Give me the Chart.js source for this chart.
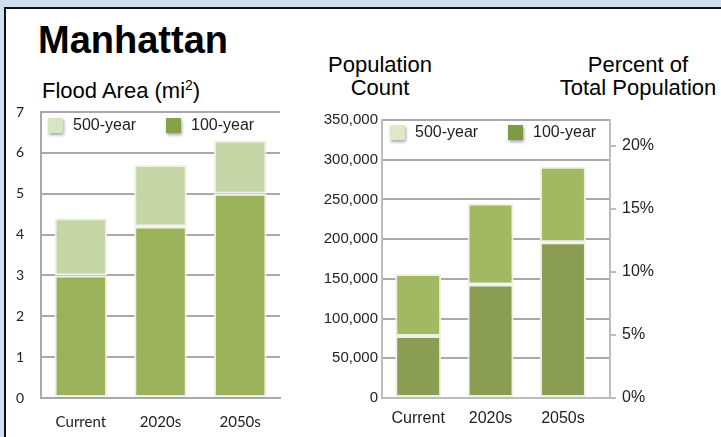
<!DOCTYPE html>
<html>
<head>
<meta charset="utf-8">
<script src="https://cdn.jsdelivr.net/npm/chart.js@4/dist/chart.umd.min.js"></script>
<style>
  body { margin: 0; width: 721px; height: 437px; overflow: hidden; position: relative; background: #cfdff0; font-family: "Liberation Sans", Arial, sans-serif; }
  #panel { position: absolute; left: 4px; top: 7px; width: 740px; height: 450px; background: #fff; border-left: 2px solid #111; border-top: 2px solid #111; }
  .txt { position: absolute; color: #000; white-space: nowrap; }
  canvas { position: absolute; top: 0; }
</style>
</head>
<body>
<div id="panel"></div>
<div class="txt" style="left:38px; top:21px; font-size:38px; line-height:38px; font-weight:bold;">Manhattan</div>
<div class="txt" style="left:42px; top:80px; font-size:22px; line-height:22px;">Flood Area (mi<sup style="font-size:14px; line-height:0; vertical-align:8px;">2</sup>)</div>
<div class="txt" style="left:280px; top:53px; width:200px; text-align:center; font-size:22px; line-height:23.3px;">Population<br>Count</div>
<div class="txt" style="left:538px; top:53px; width:200px; text-align:center; font-size:22px; line-height:23.3px;">Percent of<br>Total Population</div>
<canvas id="areaChart" width="290" height="437" style="left:0px;"></canvas>
<canvas id="popChart" width="431" height="437" style="left:290px;"></canvas>
<script>
// values
const categories = ['Current', '2020s', '2050s'];
const seriesNames = ['100-year', '500-year'];

// flood area, mi2 (500-year is the extra area on top of the 100-year one)
const area100 = [3.0, 4.2, 5.0];
const area500 = [1.4, 1.5, 1.3];
const areaTicks = [0, 1, 2, 3, 4, 5, 6, 7];

// people living in the flood zone
const pop100 = [78000, 143000, 196000];
const pop500 = [78000, 102000, 95000];
const popTicks = [0, 50000, 100000, 150000, 200000, 250000, 300000, 350000];

// right axis: share of the borough's population
const totalPopulation = 1585873;
const percentTicks = [0, 5, 10, 15, 20];

const gridGray = '#a9a9a9';
const axisGray = '#bdbdbd';

// draws the small legend inside the plot area
let insideLegend = {
    id: 'insideLegend',
    afterDraw(chart, args, opts) {
        let ctx = chart.ctx;
        let area = chart.chartArea;
        ctx.save();
        opts.items.forEach(item => {
            let x = area.left + item.dx;
            let y = area.top + opts.dy;
            ctx.shadowColor = 'rgba(0,0,0,0.35)';
            ctx.shadowBlur = 3;
            ctx.shadowOffsetX = 1;
            ctx.shadowOffsetY = 2;
            ctx.fillStyle = item.color;
            ctx.fillRect(x, y, 15, 15);
            ctx.shadowColor = 'transparent';
            ctx.fillStyle = '#222';
            ctx.font = '16px "Liberation Sans", Arial, sans-serif';
            ctx.textBaseline = 'middle';
            ctx.textAlign = 'left';
            ctx.fillText(item.text, x + 25, y + 8);
        });
        ctx.restore();
    }
};

let renderAreaChart = () => {

    let canvas = document.getElementById('areaChart');

    new Chart(canvas, {
        type: 'bar',
        data: {
            labels: categories,
            datasets: [
                {
                    label: seriesNames[0],
                    data: area100,
                    backgroundColor: '#9bb25b',
                    borderColor: '#eef1e6',
                    borderWidth: 2,
                    borderSkipped: false,
                    barPercentage: 0.66,
                    categoryPercentage: 1
                },
                {
                    label: seriesNames[1],
                    data: area500,
                    backgroundColor: '#c5d5a5',
                    borderColor: '#eef1e6',
                    borderWidth: 2,
                    borderSkipped: false,
                    barPercentage: 0.66,
                    categoryPercentage: 1
                }
            ]
        },
        options: {
            responsive: false,
            animation: false,
            devicePixelRatio: 1,
            layout: { padding: { top: 112, right: 10, bottom: 0, left: 0 } },
            scales: {
                x: {
                    stacked: true,
                    grid: { display: false },
                    border: { display: true, color: gridGray, width: 2 },
                    ticks: { color: '#222', padding: 7, font: { family: 'Lato', size: 15 } },
                    afterFit: (scale) => { scale.height = 39; }
                },
                y: {
                    stacked: true,
                    min: 0,
                    max: 7,
                    afterBuildTicks: (scale) => { scale.ticks = areaTicks.map(v => ({ value: v })); },
                    grid: { color: gridGray, lineWidth: 2, drawTicks: false },
                    border: { display: true, color: gridGray, width: 2 },
                    ticks: { color: '#222', padding: 17, font: { family: 'Lato', size: 14 } },
                    afterFit: (scale) => { scale.width = 41; }
                }
            },
            plugins: {
                legend: { display: false },
                tooltip: { enabled: false },
                insideLegend: {
                    dy: 6,
                    items: [
                        { text: '500-year', color: '#d9e4c4', dx: 7 },
                        { text: '100-year', color: '#86a14a', dx: 125 }
                    ]
                }
            }
        },
        plugins: [insideLegend]
    });
};

let renderPopChart = () => {

    let canvas = document.getElementById('popChart');
    let points100 = pop100.map((v, i) => ({ x: i, y: v }));
    let points500 = pop500.map((v, i) => ({ x: i, y: v }));
    let popMax = popTicks[popTicks.length - 1];

    new Chart(canvas, {
        type: 'bar',
        data: {
            datasets: [
                {
                    label: seriesNames[0],
                    data: points100,
                    backgroundColor: '#8a9d52',
                    borderColor: '#eef1e6',
                    borderWidth: 2,
                    borderSkipped: false,
                    barPercentage: 0.635,
                    categoryPercentage: 1
                },
                {
                    label: seriesNames[1],
                    data: points500,
                    backgroundColor: '#a3b862',
                    borderColor: '#eef1e6',
                    borderWidth: 2,
                    borderSkipped: false,
                    barPercentage: 0.635,
                    categoryPercentage: 1
                }
            ]
        },
        options: {
            responsive: false,
            animation: false,
            devicePixelRatio: 1,
            layout: { padding: { top: 120, right: 0, bottom: 0, left: 0 } },
            scales: {
                x: {
                    type: 'linear',
                    stacked: true,
                    offset: false,
                    min: -0.5,
                    max: 2.65,
                    afterBuildTicks: (scale) => { scale.ticks = categories.map((c, i) => ({ value: i })); },
                    grid: { display: false },
                    border: { display: true, color: axisGray, width: 2 },
                    ticks: {
                        color: '#222',
                        padding: 3,
                        font: { family: '"Liberation Sans", Arial', size: 16 },
                        callback: (value) => categories[value]
                    },
                    afterFit: (scale) => { scale.height = 39; }
                },
                y: {
                    stacked: true,
                    position: 'left',
                    min: 0,
                    max: popMax,
                    afterBuildTicks: (scale) => { scale.ticks = popTicks.map(v => ({ value: v })); },
                    grid: { color: gridGray, lineWidth: 2, drawTicks: false },
                    border: { display: true, color: axisGray, width: 2 },
                    ticks: {
                        color: '#222',
                        padding: 4,
                        font: { family: '"Liberation Sans", Arial', size: 15 },
                        callback: (value) => value.toLocaleString('en-US')
                    },
                    afterFit: (scale) => { scale.width = 92; }
                },
                y2: {
                    position: 'right',
                    min: 0,
                    max: popMax / totalPopulation * 100,
                    afterBuildTicks: (scale) => { scale.ticks = percentTicks.map(v => ({ value: v })); },
                    grid: { drawOnChartArea: false, color: axisGray, lineWidth: 2, tickLength: 6 },
                    border: { display: true, color: axisGray, width: 2 },
                    ticks: {
                        color: '#222',
                        padding: 6,
                        font: { family: '"Liberation Sans", Arial', size: 16 },
                        callback: (value) => value + '%'
                    },
                    afterFit: (scale) => { scale.width = 111; }
                }
            },
            plugins: {
                legend: { display: false },
                tooltip: { enabled: false },
                insideLegend: {
                    dy: 5,
                    items: [
                        { text: '500-year', color: '#dfe8c9', dx: 8 },
                        { text: '100-year', color: '#7f9a45', dx: 126 }
                    ]
                }
            }
        },
        plugins: [insideLegend]
    });
};

renderAreaChart();
renderPopChart();
</script>
</body>
</html>
